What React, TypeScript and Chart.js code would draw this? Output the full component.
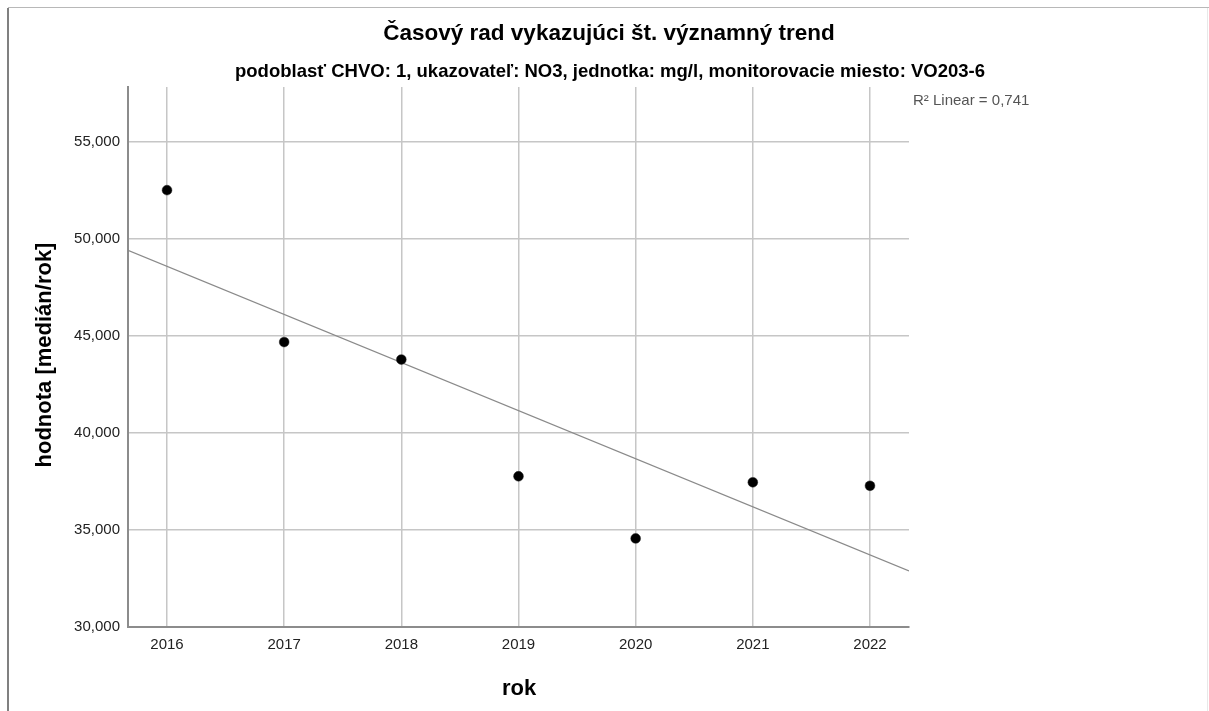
import React, { useEffect, useRef } from 'react';
import { Chart, registerables } from 'chart.js';

Chart.register(...registerables);

const chartTitle = 'Časový rad vykazujúci št. významný trend';
const chartSubtitle = 'podoblasť CHVO: 1, ukazovateľ: NO3, jednotka: mg/l, monitorovacie miesto: VO203-6';
const xAxisTitle = 'rok';
const yAxisTitle = 'hodnota [medián/rok]';
const fitLabel = 'R² Linear = 0,741';

const years = [2016, 2017, 2018, 2019, 2020, 2021, 2022];
const medianValues = [52.49, 44.67, 43.77, 37.76, 34.56, 37.45, 37.27];
const xTickValues = [2016, 2017, 2018, 2019, 2020, 2021, 2022];
const yTickValues = [30, 35, 40, 45, 50, 55];
const xRange = [2015.667, 2022.333];
const yRange = [30, 57.8];

const FONT = '"Liberation Sans", Arial, Helvetica, sans-serif';

function linearFit(xs: number[], ys: number[]) {
  const n = xs.length;
  const mx = xs.reduce((a, b) => a + b, 0) / n;
  const my = ys.reduce((a, b) => a + b, 0) / n;
  let sxy = 0;
  let sxx = 0;
  for (let i = 0; i < n; i++) {
    sxy += (xs[i] - mx) * (ys[i] - my);
    sxx += (xs[i] - mx) * (xs[i] - mx);
  }
  const slope = sxy / sxx;
  const intercept = my - slope * mx;
  return (x: number) => intercept + slope * x;
}

const decorPlugin = {
  id: 'decor',
  afterDraw(chart: any) {
    const ctx = chart.ctx as CanvasRenderingContext2D;
    ctx.save();
    // frame
    ctx.fillStyle = '#b8b8b8';
    ctx.fillRect(8, 7, 1201, 1);
    ctx.fillStyle = '#808080';
    ctx.fillRect(7, 8, 2, 703);
    ctx.fillStyle = '#e8e8e8';
    ctx.fillRect(1207, 8, 1, 703);

    ctx.fillStyle = '#000';
    ctx.textAlign = 'center';
    ctx.textBaseline = 'middle';
    ctx.font = `bold 22.5px ${FONT}`;
    ctx.fillText(chartTitle, 609, 33.5);
    ctx.font = `bold 18.5px ${FONT}`;
    ctx.fillText(chartSubtitle, 610, 72);

    ctx.textBaseline = 'alphabetic';
    ctx.font = `bold 22px ${FONT}`;
    ctx.fillText(xAxisTitle, 519, 695);

    ctx.save();
    ctx.translate(51, 355);
    ctx.rotate(-Math.PI / 2);
    ctx.fillText(yAxisTitle, 0, 0);
    ctx.restore();

    ctx.textAlign = 'left';
    ctx.textBaseline = 'middle';
    ctx.fillStyle = '#555';
    ctx.font = `15px ${FONT}`;
    ctx.fillText(fitLabel, 913, 101);
    ctx.restore();
  },
};

export default function App() {
  const canvasRef = useRef<HTMLCanvasElement | null>(null);

  useEffect(() => {
    if (!canvasRef.current) return;
    const fit = linearFit(years, medianValues);
    const points = years.map((y, i) => ({ x: y, y: medianValues[i] }));
    const fitLine = [
      { x: xRange[0], y: fit(xRange[0]) },
      { x: xRange[1], y: fit(xRange[1]) },
    ];

    const chart = new Chart(canvasRef.current, {
      type: 'scatter',
      data: {
        datasets: [
          {
            type: 'line',
            label: 'fit',
            data: fitLine,
            borderColor: '#8a8a8a',
            borderWidth: 1.2,
            pointRadius: 0,
            fill: false,
            order: 2,
          } as any,
          {
            label: 'medián',
            data: points,
            backgroundColor: '#000',
            borderColor: '#222',
            borderWidth: 0.5,
            pointRadius: 4.9,
            order: 1,
          },
        ],
      },
      plugins: [decorPlugin],
      options: {
        animation: false,
        responsive: false,
        devicePixelRatio: 1,
        layout: { padding: { left: 0, top: 87, right: 300, bottom: 0 } },
        plugins: {
          legend: { display: false },
          tooltip: { enabled: false },
          title: { display: false },
        },
        scales: {
          x: {
            type: 'linear',
            min: xRange[0],
            max: xRange[1],
            afterBuildTicks: (scale: any) => {
              scale.ticks = xTickValues.map((v) => ({ value: v }));
            },
            afterFit: (scale: any) => {
              scale.height = 84;
            },
            ticks: {
              color: '#222',
              font: { family: FONT, size: 15 },
              padding: 9,
              callback: (v: any) => String(v),
              maxRotation: 0,
            },
            grid: { color: '#c6c6c6', lineWidth: 1.5, drawTicks: false },
            border: { color: '#8c8c8c', width: 2 },
          },
          y: {
            type: 'linear',
            min: yRange[0],
            max: yRange[1],
            afterBuildTicks: (scale: any) => {
              scale.ticks = yTickValues.map((v) => ({ value: v }));
            },
            afterFit: (scale: any) => {
              scale.width = 128;
            },
            ticks: {
              color: '#222',
              font: { family: FONT, size: 15 },
              padding: 8,
              callback: (v: any) => Number(v).toFixed(3).replace('.', ','),
            },
            grid: { color: '#c6c6c6', lineWidth: 1.5, drawTicks: false },
            border: { color: '#8c8c8c', width: 2 },
          },
        },
      },
    });
    return () => chart.destroy();
  }, []);

  return (
    <div style={{ position: 'absolute', left: 0, top: 0, width: 1209, height: 711, background: '#fff' }}>
      <canvas ref={canvasRef} width={1209} height={711} style={{ width: 1209, height: 711, display: 'block' }} />
    </div>
  );
}
